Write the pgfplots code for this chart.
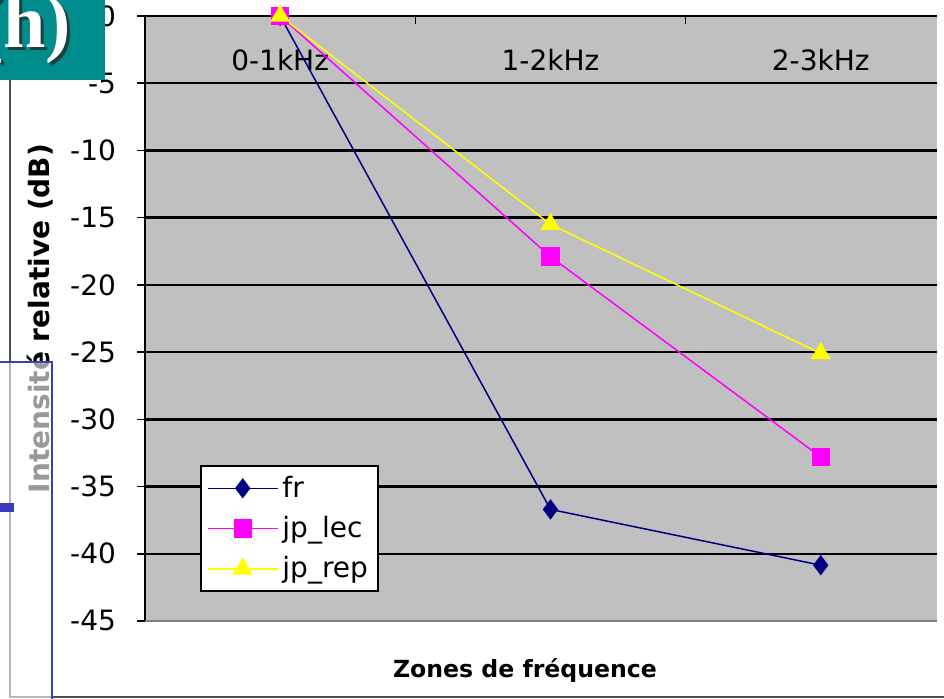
\documentclass[border=0pt]{standalone}
\usepackage{pgfplots}
\pgfplotsset{compat=1.18}
\usepackage{fontspec}
\setmainfont{DejaVu Sans}
\newfontfamily\slidefont{Liberation Serif}
\definecolor{plotgray}{RGB}{192,192,192}
\definecolor{frblue}{RGB}{0,0,128}
\definecolor{leccol}{RGB}{255,0,255}
\definecolor{repcol}{RGB}{255,255,0}
\definecolor{slideteal}{RGB}{0,140,140}
\definecolor{slideblue}{RGB}{60,60,190}

\begin{document}
\begin{tikzpicture}
\useasboundingbox (0,0) rectangle (472pt,349.5pt);
% frame of the chart object on the slide
\draw[black!70, line width=0.6pt] (5pt,349.5pt) -- (5pt,1pt) -- (472pt,1pt);
\begin{axis}[
    at={(72.5pt,39pt)}, anchor=south west,
    scale only axis, width=396pt, height=302.5pt,
    xmin=-0.5, xmax=2.43, ymin=-45, ymax=0,
    clip=false,
    axis x line*=top, axis y line*=left,
    axis line style={black, line width=1pt, -},
    axis background/.style={fill=plotgray},
    tick align=outside,
    xtick={0,1,2},
    xticklabels={0-1kHz,1-2kHz,2-3kHz},
    major x tick style={draw=none},
    minor xtick={0.5,1.5},
    minor tick length=4pt,
    minor x tick style={yshift=-4pt, line width=0.8pt, black},
    xticklabel style={anchor=center, yshift=-26pt},
    ytick={0,-5,...,-45},
    major tick length=4pt,
    ytick style={line width=0.8pt, black},
    yticklabel style={xshift=-7pt},
    tick label style={font=\fontsize{14}{16}\selectfont},
    /pgf/number format/assume math mode=true,
    ymajorgrids,
    major grid style={black, line width=1.2pt},
    xlabel={Zones de fréquence},
    ylabel={Intensité relative (dB)},
    every axis x label/.style={at={(rel axis cs:0,0)}, xshift=190pt, yshift=-25pt, anchor=center, font=\fontsize{11.8}{14}\bfseries},
    every axis y label/.style={at={(rel axis cs:0,0.5)}, xshift=-52.5pt, rotate=90, anchor=center, font=\fontsize{14}{16}\bfseries},
    legend style={at={(0.0694,0.048)}, anchor=south west, draw=black, line width=1pt, fill=white,
        font=\fontsize{14}{16}\selectfont, row sep=4pt, inner sep=3pt},
    legend cell align=left,
    legend image code/.code={\draw[mark repeat=2, mark phase=2] plot coordinates {(0pt,0pt) (17.5pt,0pt) (35pt,0pt)};},
    after end axis/.code={\draw[black!50, line width=0.8pt] (rel axis cs:0,0) -- (rel axis cs:1,0);},
]
    \addplot[frblue, line width=0.75pt, mark=diamond*, mark size=4.5pt, mark options={fill=frblue}] coordinates {
        (0, 0) (1, -36.7) (2, -40.85)
    };
    \addplot[leccol, line width=0.75pt, mark=square*, mark size=4.2pt, mark options={fill=leccol}] coordinates {
        (0, 0) (1, -17.9) (2, -32.8)
    };
    \addplot[repcol, line width=0.75pt, mark=triangle*, mark size=5pt, mark options={fill=repcol}] coordinates {
        (0, 0) (1, -15.5) (2, -25.1)
    };
    \legend{fr, jp\_lec, jp\_rep}
\end{axis}
% slide decorations
\fill[slideteal] (0,309.5pt) rectangle (52.5pt,349.5pt);
\node[anchor=base west, inner sep=0pt, text=black!85, opacity=0.75] at (-9.5pt,324pt) {\slidefont\bfseries\fontsize{38}{40}\selectfont (h)};
\node[anchor=base west, inner sep=0pt, text=white] at (-11pt,325.5pt) {\slidefont\bfseries\fontsize{38}{40}\selectfont (h)};
\fill[white, opacity=0.6] (0,0) rectangle (26pt,168.5pt);
\draw[slideblue, line width=0.6pt] (0,168.5pt) -- (26pt,168.5pt) -- (26pt,0);
\fill[slideblue] (0,93.5pt) rectangle (7pt,98pt);
\end{tikzpicture}
\end{document}
